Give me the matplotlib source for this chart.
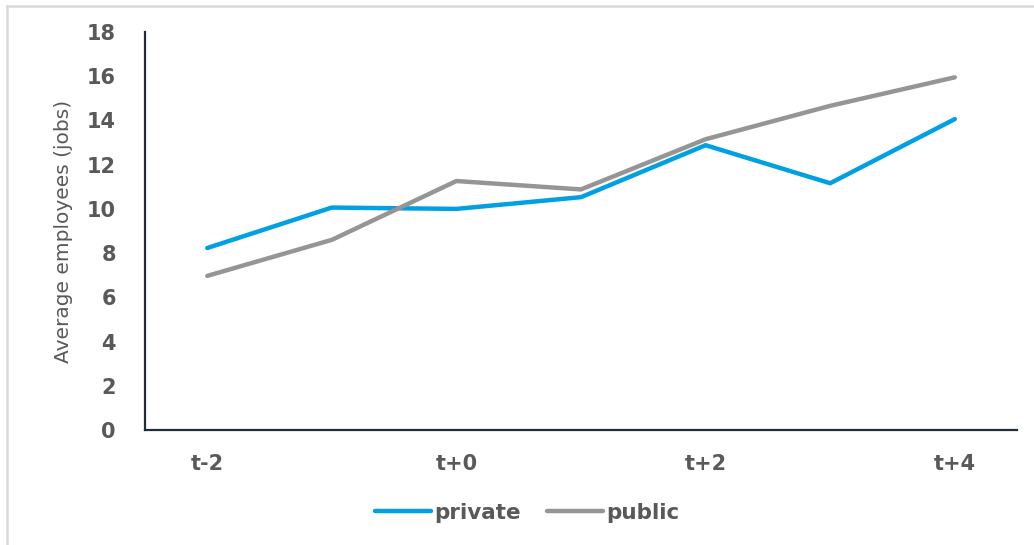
import matplotlib
matplotlib.use("Agg")
import matplotlib.pyplot as plt
from matplotlib.lines import Line2D

# average employees per firm around the event year
periods = ["t-2", "t-1", "t+0", "t+1", "t+2", "t+3", "t+4"]
private = [8.23, 10.06, 10.0, 10.53, 12.88, 11.16, 14.06]
public = [6.97, 8.6, 11.26, 10.88, 13.15, 14.66, 15.95]
shown_labels = ["t-2", "t+0", "t+2", "t+4"]

blue = "#00A0E3"
grey = "#959595"
text_grey = "#595959"
axis_col = "#1F2D3A"

fig = plt.figure(figsize=(10.34, 5.45), dpi=100)
ax = fig.add_axes([0.1402, 0.211, 0.8434, 0.7303])

x = list(range(len(periods)))
ax.plot(x, private, color=blue, lw=3.2, solid_capstyle="round", label="private")
ax.plot(x, public, color=grey, lw=3.2, solid_capstyle="round", label="public")

ax.set_xlim(-0.5, len(periods) - 0.5)
ax.set_ylim(0, 18)
ax.set_yticks(range(0, 19, 2))
ax.set_xticks([periods.index(p) for p in shown_labels])
ax.set_xticklabels(shown_labels)

for side in ("top", "right"):
    ax.spines[side].set_visible(False)
for side in ("left", "bottom"):
    ax.spines[side].set_color(axis_col)
    ax.spines[side].set_linewidth(1.6)

ax.tick_params(axis="both", length=0, colors=text_grey, labelsize=15)
ax.tick_params(axis="y", pad=21)
ax.tick_params(axis="x", pad=17)
for lbl in ax.get_xticklabels() + ax.get_yticklabels():
    lbl.set_fontweight("bold")

ax.set_ylabel("Average employees (jobs)", fontsize=14.5, color=text_grey)
ax.yaxis.set_label_coords(-0.082, 0.5)

fig.legend(loc="center", bbox_to_anchor=(527 / 1034, 1 - 513 / 545), ncol=2,
           frameon=False, handlelength=2.6, handletextpad=0.15,
           columnspacing=1.2, prop={"weight": "bold", "size": 15.5},
           labelcolor=text_grey)

# light frame along the left and top edges
fig.add_artist(Line2D([7 / 1034, 7 / 1034], [0, 1 - 6 / 545], transform=fig.transFigure,
                      color="#D9D9D9", lw=1.8))
fig.add_artist(Line2D([7 / 1034, 1], [1 - 6 / 545, 1 - 6 / 545], transform=fig.transFigure,
                      color="#D9D9D9", lw=1.8))

fig.savefig("out.png", dpi=100)
